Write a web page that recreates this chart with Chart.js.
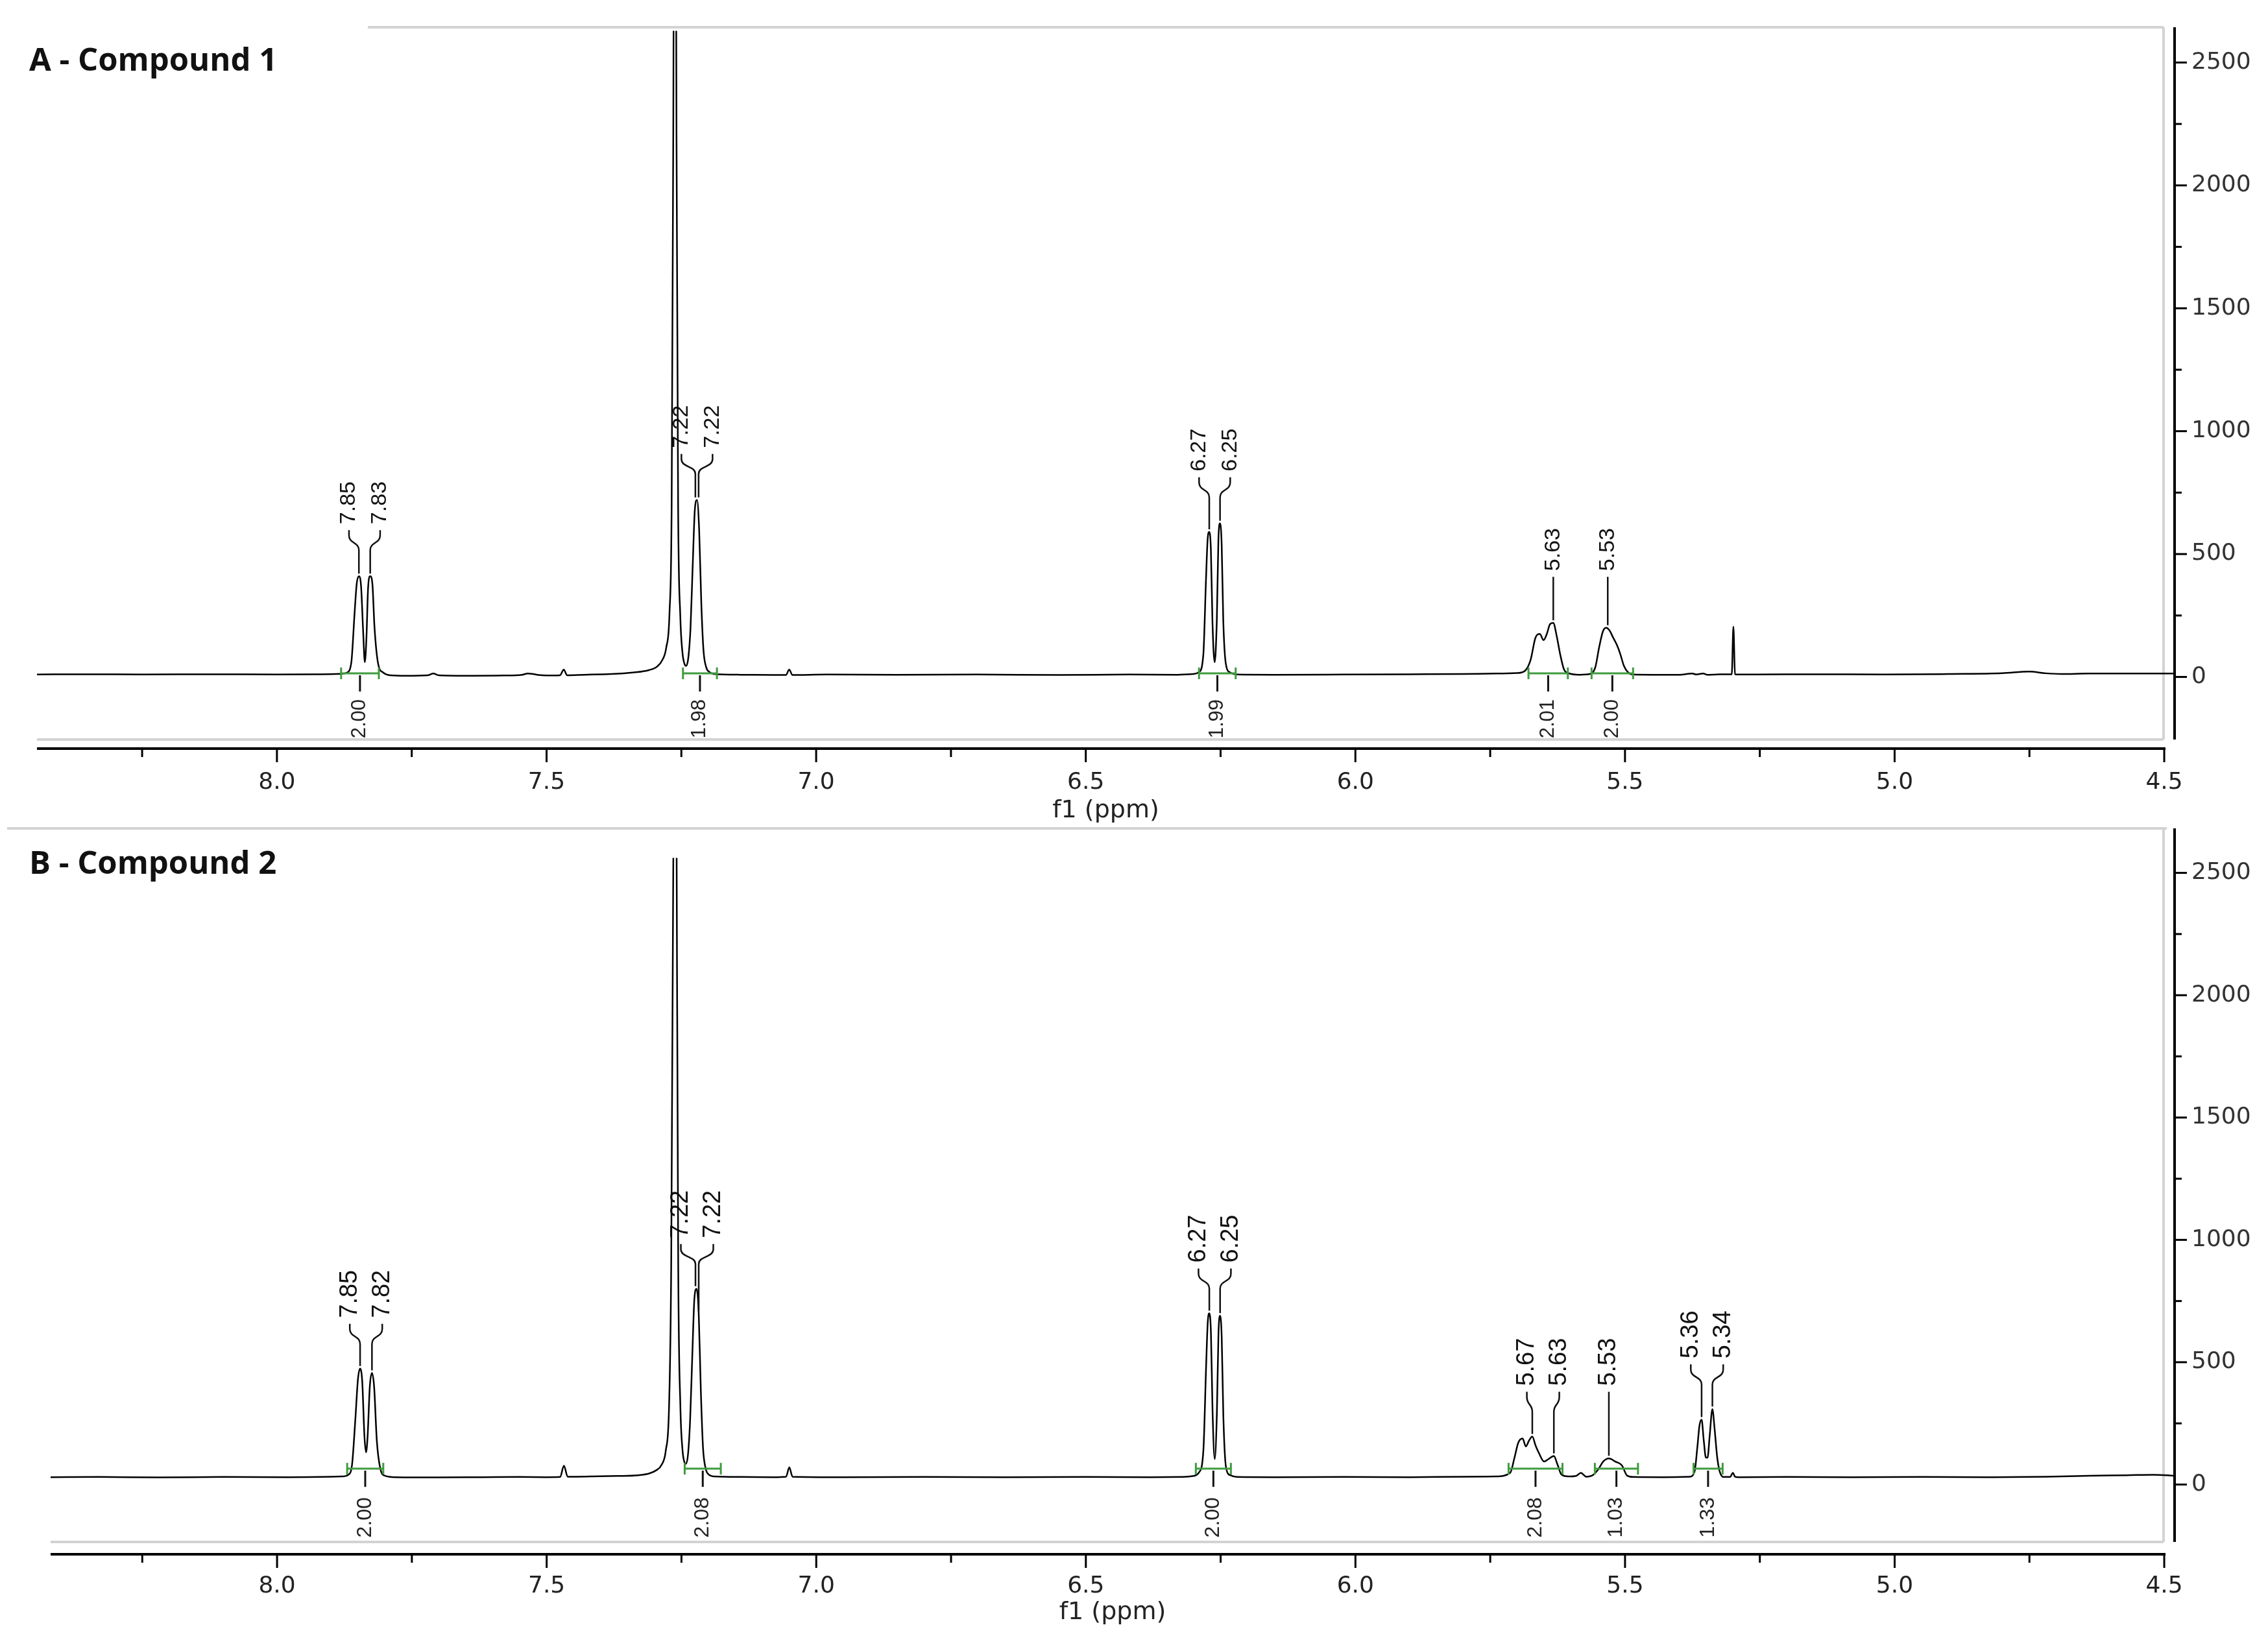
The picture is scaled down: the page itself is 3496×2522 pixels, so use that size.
<!DOCTYPE html>
<html>
<head>
<meta charset="utf-8">
<script src="https://cdn.jsdelivr.net/npm/chart.js@4.4.1/dist/chart.umd.min.js"></script>
<style>
  html, body { margin: 0; padding: 0; background: #fff; }
  #wrap { position: relative; width: 3496px; height: 2522px; }
  canvas { position: absolute; left: 0; }
</style>
</head>
<body>
<div id="wrap">
  <canvas id="chartA" width="3496" height="1275" style="top:0;width:3496px;height:1275px"></canvas>
  <canvas id="chartB" width="3496" height="1247" style="top:1275px;width:3496px;height:1247px"></canvas>
</div>
<script>
// axis ticks (ppm and intensity)
const xMajorTicks = [8.0, 7.5, 7.0, 6.5, 6.0, 5.5, 5.0, 4.5]
const xMinorTicks = [8.25, 7.75, 7.25, 6.75, 6.25, 5.75, 5.25, 4.75]
const yMajorTicks = [0, 500, 1000, 1500, 2000, 2500]
const yMinorTicks = [250, 750, 1250, 1750, 2250]

// A - Compound 1 : spectrum
const ppmA = [
  8.445, 8.35, 8.25, 8.12, 8.0, 7.92, 7.88,
  7.87, 7.862, 7.856, 7.852, 7.848, 7.844, 7.840, 7.837, 7.834, 7.831, 7.827, 7.823, 7.819, 7.812, 7.803,
  7.79, 7.76, 7.72, 7.71, 7.70, 7.64, 7.58, 7.545, 7.535, 7.525, 7.515, 7.50, 7.475, 7.468, 7.462,
  7.43, 7.38, 7.34, 7.31, 7.295, 7.285, 7.278, 7.272, 7.268, 7.265, 7.262, 7.259, 7.256, 7.252, 7.248, 7.244, 7.241, 7.237, 7.233, 7.229, 7.225, 7.221, 7.217, 7.213, 7.209, 7.204, 7.198, 7.19,
  7.14, 7.08, 7.056, 7.050, 7.044, 6.98, 6.85, 6.70, 6.55, 6.42, 6.33,
  6.30, 6.29, 6.282, 6.277, 6.274, 6.271, 6.268, 6.265, 6.261, 6.257, 6.254, 6.251, 6.248, 6.245, 6.240, 6.232, 6.22,
  6.15, 6.02, 5.90, 5.80, 5.74, 5.70,
  5.685, 5.675, 5.666, 5.658, 5.651, 5.645, 5.639, 5.633, 5.627, 5.620, 5.613, 5.603,
  5.585, 5.565, 5.555, 5.548, 5.541, 5.535, 5.529, 5.522, 5.515, 5.509, 5.502, 5.494, 5.485,
  5.45, 5.40, 5.375, 5.368, 5.355, 5.348, 5.33, 5.31, 5.302, 5.299, 5.296, 5.293, 5.26, 5.15, 5.02, 4.90, 4.80, 4.75, 4.72, 4.69, 4.64, 4.56, 4.481
]
const intensityA = [
  10, 11, 10, 11, 10, 11, 13,
  18, 60, 260, 380, 410, 370, 180, 60, 160, 360, 410, 380, 200, 50, 18,
  7, 5, 7, 14, 7, 5, 6, 9, 14, 12, 8, 6, 7, 30, 7,
  9, 12, 18, 28, 42, 70, 120, 260, 700, 2200, 4500, 2200, 700, 250, 100, 52, 45, 80, 200, 450, 680, 720, 600, 300, 110, 40, 20, 12,
  9, 8, 8, 30, 8, 10, 9, 10, 8, 10, 9,
  12, 20, 90, 400, 560, 590, 520, 220, 60, 230, 560, 625, 540, 230, 50, 18, 10,
  9, 10, 11, 12, 14, 16,
  26, 70, 160, 175, 150, 175, 215, 220, 170, 90, 30, 14,
  9, 12, 40, 120, 185, 200, 190, 160, 130, 95, 45, 18, 10,
  9, 9, 14, 10, 14, 9, 10, 11, 11, 205, 11, 10, 10, 11, 10, 12, 15, 22, 15, 12, 14, 14, 14
]
const peaksA = [7.848, 7.827, 7.224, 7.218, 6.271, 6.251, 5.633, 5.532]
const integralFromA = [7.881, 7.247, 6.290, 5.679, 5.562]
const integralToA = [7.811, 7.184, 6.222, 5.606, 5.485]
const integralValuesA = ['2.00', '1.98', '1.99', '2.01', '2.00']

// B - Compound 2
const ppmB = [
  8.42, 8.33, 8.22, 8.10, 7.98, 7.92, 7.88,
  7.868, 7.861, 7.855, 7.850, 7.846, 7.842, 7.838, 7.835, 7.832, 7.828, 7.824, 7.820, 7.815, 7.809, 7.800,
  7.78, 7.70, 7.62, 7.55, 7.50, 7.475, 7.468, 7.461, 7.42,
  7.37, 7.33, 7.31, 7.297, 7.287, 7.279, 7.273, 7.269, 7.265, 7.262, 7.259, 7.256, 7.252, 7.248, 7.245, 7.242, 7.238, 7.234, 7.230, 7.226, 7.222, 7.218, 7.214, 7.210, 7.205, 7.199, 7.19,
  7.14, 7.08, 7.056, 7.050, 7.044, 6.95, 6.80, 6.65, 6.50, 6.38, 6.32,
  6.30, 6.29, 6.282, 6.277, 6.274, 6.271, 6.268, 6.265, 6.261, 6.257, 6.254, 6.251, 6.248, 6.245, 6.240, 6.232, 6.22,
  6.15, 6.02, 5.90, 5.80, 5.74,
  5.713, 5.705, 5.698, 5.690, 5.684, 5.678, 5.672, 5.666, 5.660, 5.650, 5.642, 5.632, 5.625, 5.618, 5.605,
  5.590, 5.582, 5.572, 5.560, 5.550, 5.540, 5.530, 5.518, 5.506, 5.496, 5.485,
  5.43, 5.38, 5.371, 5.366, 5.362, 5.358, 5.354, 5.350, 5.347, 5.343, 5.338, 5.334, 5.329, 5.324, 5.316,
  5.305, 5.300, 5.296, 5.29, 5.20, 5.08, 4.95, 4.82, 4.72, 4.64, 4.57, 4.52, 4.481
]
const intensityB = [
  30, 31, 29, 31, 30, 31, 33,
  40, 80, 260, 430, 474, 420, 200, 132, 200, 400, 456, 400, 180, 70, 36,
  30, 29, 30, 31, 30, 31, 77, 32, 33,
  35, 38, 45, 58, 80, 140, 320, 900, 2600, 4500, 2600, 900, 320, 140, 95, 84, 120, 260, 520, 760, 800, 700, 380, 150, 65, 40, 33,
  31, 30, 32, 70, 32, 30, 31, 30, 31, 30, 31,
  35, 50, 140, 480, 660, 700, 620, 300, 104, 290, 620, 690, 600, 280, 70, 38, 31,
  30, 31, 30, 32, 33,
  48, 110, 171, 188, 156, 180, 196, 160, 130, 94, 104, 117, 80, 41, 33,
  36, 48, 32, 38, 61, 95, 107, 94, 79, 36, 31,
  30, 32, 54, 150, 240, 265, 180, 110, 110, 200, 308, 230, 110, 50, 31,
  31, 48, 32, 30, 31, 30, 31, 30, 32, 36, 38, 40, 36
]
const peaksB = [7.846, 7.824, 7.224, 7.218, 6.271, 6.251, 5.672, 5.632, 5.530, 5.358, 5.338]
const integralFromB = [7.870, 7.244, 6.296, 5.716, 5.556, 5.373]
const integralToB = [7.803, 7.177, 6.231, 5.616, 5.476, 5.319]
const integralValuesB = ['2.00', '2.08', '2.00', '2.08', '1.03', '1.33']

const LINE = '#000'
const FRAME = '#d3d3d3'
const GREEN = '#3f9b3f'

function line(ctx, x1, y1, x2, y2) {
  ctx.beginPath()
  ctx.moveTo(x1, y1)
  ctx.lineTo(x2, y2)
  ctx.stroke()
}

// push close labels apart, keeping each cluster centred on its peaks
function spreadLabels(xs, gap) {
  let groups = xs.map((x, i) => ({ idx: [i], c: x }))
  let merged = true
  while (merged) {
    merged = false
    for (let k = 0; k < groups.length - 1; k++) {
      const a = groups[k], b = groups[k + 1]
      const aEnd = a.c + (a.idx.length - 1) / 2 * gap
      const bStart = b.c - (b.idx.length - 1) / 2 * gap
      if (bStart - aEnd < gap) {
        const idx = a.idx.concat(b.idx)
        const c = idx.reduce((s, i) => s + xs[i], 0) / idx.length
        groups.splice(k, 2, { idx, c })
        merged = true
        break
      }
    }
  }
  const out = []
  groups.forEach(g => g.idx.forEach((i, j) => { out[i] = g.c + (j - (g.idx.length - 1) / 2) * gap }))
  return out
}

function peakTop(ppm, intensity, p) {
  let best = 0
  ppm.forEach((v, i) => { if (Math.abs(v - p) <= 0.004 && intensity[i] > best) best = intensity[i] })
  return best
}

function nmrPlugin(p) {
  const sorted = p.intensity.slice().sort((a, b) => a - b)
  const baseline = sorted[Math.floor(sorted.length / 2)]

  return {
    id: 'nmrDecor',
    beforeDatasetsDraw(chart) {
      const { ctx, chartArea: a, scales: { x, y } } = chart
      ctx.save()

      // light grey frame
      ctx.strokeStyle = FRAME
      ctx.lineWidth = 4
      line(ctx, p.frame.topFrom, p.frame.top, p.frame.topTo, p.frame.top)
      line(ctx, p.frame.right, p.frame.top, p.frame.right, p.frame.bottom)
      line(ctx, a.left, p.frame.bottom, p.frame.right, p.frame.bottom)

      // panel title
      ctx.fillStyle = '#111'
      ctx.font = 'bold 49px "Open Sans"'
      ctx.textBaseline = 'middle'
      ctx.textAlign = 'left'
      ctx.fillText(p.title, 45, p.titleY)

      // peak labels
      const px = p.peaks.map(v => x.getPixelForValue(v))
      const tops = p.peaks.map(v => y.getPixelForValue(peakTop(p.ppm, p.intensity, v)))
      const tx = spreadLabels(px, p.labelGap)
      // labels close to each other share one height
      const level = []
      let start = 0
      for (let i = 1; i <= tx.length; i++) {
        if (i === tx.length || tx[i] - tx[i - 1] > 100) {
          const tb = Math.min(...tops.slice(start, i)) - p.labelOffset
          for (let k = start; k < i; k++) level[k] = tb
          start = i
        }
      }
      ctx.font = p.labelFont
      ctx.fillStyle = '#111'
      ctx.strokeStyle = '#111'
      ctx.lineWidth = 2.5
      p.peaks.forEach((v, i) => {
        const tb = level[i]
        ctx.save()
        ctx.translate(tx[i], tb)
        ctx.rotate(-Math.PI / 2)
        ctx.textAlign = 'left'
        ctx.textBaseline = 'middle'
        ctx.fillText(v.toFixed(2), 0, 0)
        ctx.restore()
        ctx.beginPath()
        ctx.moveTo(tx[i], tb + 9)
        ctx.lineTo(tx[i], tb + 17)
        ctx.bezierCurveTo(tx[i], tb + 30, px[i], tb + 27, px[i], tb + 40)
        if (tops[i] - 4 > tb + 40) ctx.lineTo(px[i], tops[i] - 4)
        ctx.stroke()
      })
      ctx.restore()
    },
    afterDatasetsDraw(chart) {
      const { ctx, scales: { x, y } } = chart
      const yb = y.getPixelForValue(baseline) + 2
      ctx.save()
      p.intFrom.forEach((f, i) => {
        const x1 = x.getPixelForValue(f)
        const x2 = x.getPixelForValue(p.intTo[i])
        const xm = (x1 + x2) / 2
        ctx.strokeStyle = GREEN
        ctx.lineWidth = 3
        line(ctx, x1, yb, x2, yb)
        line(ctx, x1, yb - 9, x1, yb + 9)
        line(ctx, x2, yb - 9, x2, yb + 9)
        ctx.strokeStyle = '#111'
        line(ctx, xm, yb + 3, xm, yb + 28)
        ctx.save()
        ctx.translate(xm, yb + p.intTextGap)
        ctx.rotate(-Math.PI / 2)
        ctx.font = p.intFont
        ctx.fillStyle = '#222'
        ctx.textAlign = 'right'
        ctx.textBaseline = 'middle'
        ctx.fillText(p.intValues[i], 0, 0)
        ctx.restore()
      })
      ctx.restore()
    },
    afterDraw(chart) {
      const { ctx, chartArea: a, scales: { x, y } } = chart
      ctx.save()
      ctx.strokeStyle = LINE
      ctx.lineWidth = 4
      line(ctx, a.left, a.bottom, x.getPixelForValue(4.5) + 2, a.bottom)
      line(ctx, a.right, p.frame.top, a.right, p.frame.bottom)
      ctx.lineWidth = 3
      xMajorTicks.forEach(v => { const q = x.getPixelForValue(v); line(ctx, q, a.bottom, q, a.bottom + 21) })
      xMinorTicks.forEach(v => { const q = x.getPixelForValue(v); line(ctx, q, a.bottom, q, a.bottom + 13) })
      yMajorTicks.forEach(v => { const q = y.getPixelForValue(v); line(ctx, a.right, q, a.right + 19, q) })
      yMinorTicks.forEach(v => { const q = y.getPixelForValue(v); line(ctx, a.right, q, a.right + 11, q) })
      ctx.restore()
    }
  }
}

function buildChart(id, p) {
  const el = document.getElementById(id)
  const W = el.width, H = el.height
  const points = p.ppm.map((v, i) => ({ x: v, y: p.intensity[i] }))
  return new Chart(el, {
    type: 'line',
    data: {
      datasets: [{
        data: points,
        borderColor: LINE,
        borderWidth: 2.5,
        pointRadius: 0,
        fill: false,
        cubicInterpolationMode: 'monotone',
      }],
    },
    options: {
      responsive: false,
      animation: false,
      events: [],
      layout: { padding: { left: p.area.left, top: p.area.top, right: 0, bottom: 0 } },
      plugins: { legend: { display: false }, tooltip: { enabled: false } },
      scales: {
        x: {
          type: 'linear',
          reverse: true,
          min: p.xMin,
          max: p.xMax,
          afterFit: s => { s.height = H - p.area.bottom },
          afterBuildTicks: s => { s.ticks = xMajorTicks.map(v => ({ value: v })) },
          grid: { display: false, drawTicks: false },
          border: { display: false },
          ticks: {
            padding: p.xLabelPad,
            color: '#222',
            font: { family: 'DejaVu Sans', size: 36 },
            maxRotation: 0,
            autoSkip: false,
            callback: v => v.toFixed(1),
          },
          title: {
            display: true,
            text: 'f1 (ppm)',
            color: '#222',
            font: { family: 'DejaVu Sans', size: 38 },
            padding: { top: 0, bottom: p.xTitlePad },
          },
        },
        y: {
          position: 'right',
          min: p.yMin,
          max: p.yMax,
          afterFit: s => { s.width = W - p.area.right },
          afterBuildTicks: s => { s.ticks = yMajorTicks.map(v => ({ value: v })) },
          grid: { display: false, drawTicks: false },
          border: { display: false },
          ticks: {
            padding: 26,
            color: '#333',
            font: { family: 'DejaVu Sans', size: 36 },
            callback: v => String(v),
          },
        },
      },
    },
    plugins: [nmrPlugin(p)],
  })
}

Chart.defaults.font.family = 'DejaVu Sans'

buildChart('chartA', {
  title: 'A - Compound 1',
  titleY: 95,
  ppm: ppmA,
  intensity: intensityA,
  peaks: peaksA,
  intFrom: integralFromA,
  intTo: integralToA,
  intValues: integralValuesA,
  area: { left: 57, right: 3352, top: 42, bottom: 1154 },
  xMin: 4.4808, xMax: 8.445,
  yMin: -291.5, yMax: 2628.7,
  frame: { top: 42, topFrom: 567, topTo: 3335, right: 3335, bottom: 1140 },
  xLabelPad: 31,
  xTitlePad: 2,
  labelGap: 48,
  labelOffset: 80,
  labelFont: '34px "Liberation Sans"',
  intFont: '31px "Liberation Sans Narrow", "Liberation Sans"',
  intTextGap: 40,
})

buildChart('chartB', {
  title: 'B - Compound 2',
  titleY: 58,
  ppm: ppmB,
  intensity: intensityB,
  peaks: peaksB,
  intFrom: integralFromB,
  intTo: integralToB,
  intValues: integralValuesB,
  area: { left: 78, right: 3352, top: 3, bottom: 1121 },
  xMin: 4.4808, xMax: 8.42,
  yMin: -285, yMax: 2561,
  frame: { top: 2, topFrom: 11, topTo: 3340, right: 3335, bottom: 1102 },
  xLabelPad: 28,
  xTitlePad: 13,
  labelGap: 50,
  labelOffset: 78,
  labelFont: '38px "Liberation Sans"',
  intFont: '32px "Liberation Sans Narrow", "Liberation Sans"',
  intTextGap: 44,
})
</script>
</body>
</html>
